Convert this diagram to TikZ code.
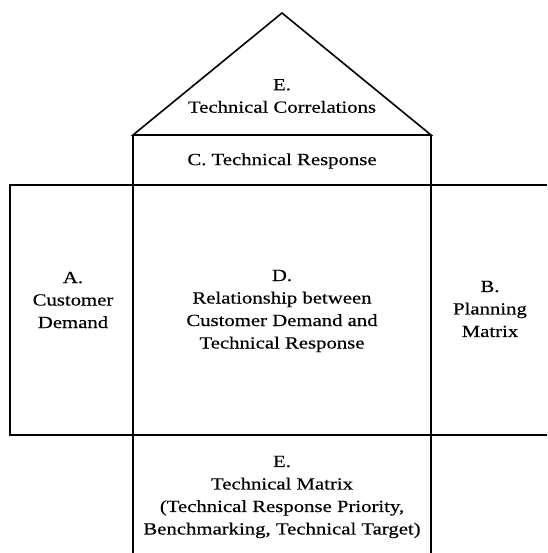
\documentclass[tikz,border=0pt]{standalone}
\usepackage{fontspec}
\setmainfont{Liberation Serif}[FakeStretch=1.22,FakeBold=0.4]
\begin{document}
\begin{tikzpicture}[x=1pt,y=-1pt,line width=1.6pt,
  lbl/.style={align=center,font=\fontsize{17}{22.5}\selectfont,inner sep=0pt}]
\useasboundingbox (0,0) rectangle (547,553);
% house outline
\coordinate (apex) at (282,13);
\coordinate (rl) at (133,135);
\coordinate (rr) at (431,135);
\coordinate (cl) at (133,185);
\coordinate (cr) at (431,185);
\coordinate (bl) at (133,553);
\coordinate (br) at (431,553);
\coordinate (wtl) at (10,185);
\coordinate (wbl) at (10,435);
\coordinate (wtr) at (547,185);
\coordinate (wbr) at (547,435);
\draw (rl) -- (apex) -- (rr) -- cycle;
\draw (rl) -- (bl);
\draw (rr) -- (br);
\draw (cl) -- (cr);
\draw (wtr) -- (wtl) -- (wbl) -- (wbr);
% labels
\node[lbl] (roof) at (282,96) {E.\\Technical Correlations};
\node[lbl] (tresp) at (282,161) {C. Technical Response};
\node[lbl] (cust) at (73,300) {A.\\Customer\\Demand};
\node[lbl] (rel) at (282,311) {D.\\Relationship between\\Customer Demand and\\Technical Response};
\node[lbl] (plan) at (490,309) {B.\\Planning\\Matrix};
\node[lbl] (tmat) at (282,497) {E.\\Technical Matrix\\(Technical Response Priority,\\Benchmarking, Technical Target)};
\end{tikzpicture}
\end{document}
